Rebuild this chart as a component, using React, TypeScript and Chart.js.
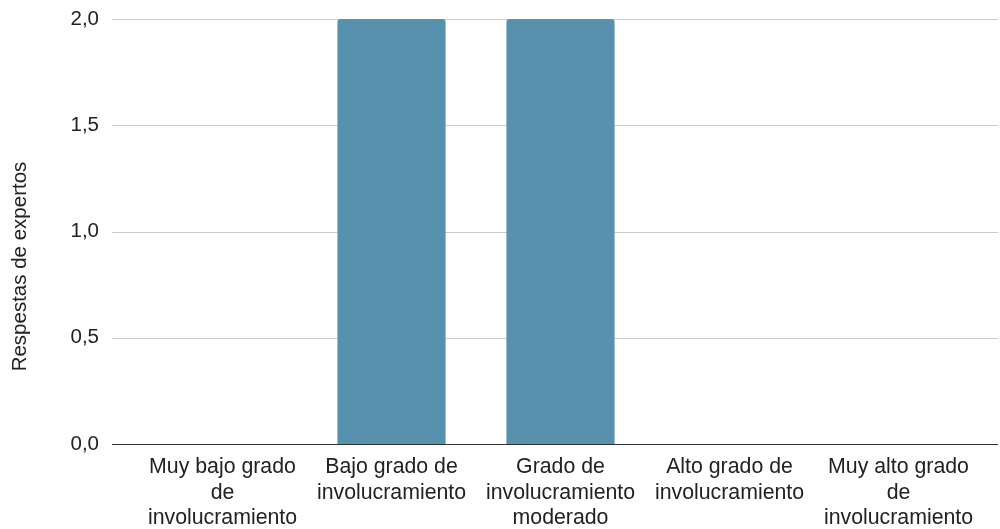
import React, { useEffect, useRef } from "react";
import { Chart, registerables } from "chart.js";

Chart.register(...registerables);

const categories: string[][] = [
  ["Muy bajo grado", "de", "involucramiento"],
  ["Bajo grado de", "involucramiento"],
  ["Grado de", "involucramiento", "moderado"],
  ["Alto grado de", "involucramiento"],
  ["Muy alto grado", "de", "involucramiento"],
];
const respuestas: number[] = [0, 2, 2, 0, 0];
const yMin = 0;
const yMax = 2;
const yStep = 0.5;
const yTitle = "Respestas de expertos";

const FONT = "'Liberation Sans', Arial, sans-serif";
const TEXT = "#222222";

// Horizontal grid lines that run a little past the plot area on both sides
const extendedGrid = {
  id: "extendedGrid",
  beforeDatasetsDraw(chart: any) {
    const { ctx, chartArea } = chart;
    const y = chart.scales.y;
    ctx.save();
    ctx.lineWidth = 1;
    ctx.strokeStyle = "#cccccc";
    y.ticks.forEach((t: any) => {
      if (t.value === 0) return;
      const py = Math.round(y.getPixelForValue(t.value)) + 0.5;
      ctx.beginPath();
      ctx.moveTo(chartArea.left - 26, py);
      ctx.lineTo(chartArea.right + 15, py);
      ctx.stroke();
    });
    ctx.restore();
  },
  afterDatasetsDraw(chart: any) {
    const { ctx, chartArea } = chart;
    const y = chart.scales.y;
    const py = Math.round(y.getPixelForValue(0)) + 0.5;
    ctx.save();
    ctx.lineWidth = 1;
    ctx.strokeStyle = "#333333";
    ctx.beginPath();
    ctx.moveTo(chartArea.left - 26, py);
    ctx.lineTo(chartArea.right + 15, py);
    ctx.stroke();
    ctx.restore();
  },
};

// Vertical axis title, centred on the full canvas height
const sideTitle = {
  id: "sideTitle",
  afterDraw(chart: any) {
    const { ctx, height } = chart;
    ctx.save();
    ctx.translate(20, height / 2 + 2);
    ctx.rotate(-Math.PI / 2);
    ctx.font = `20.5px ${FONT}`;
    ctx.fillStyle = TEXT;
    ctx.textAlign = "center";
    ctx.textBaseline = "middle";
    ctx.fillText(yTitle, 0, 0);
    ctx.restore();
  },
};

export default function App() {
  const canvasRef = useRef<HTMLCanvasElement | null>(null);

  useEffect(() => {
    if (!canvasRef.current) return;
    const chart = new Chart(canvasRef.current, {
      type: "bar",
      data: {
        labels: categories,
        datasets: [
          {
            label: yTitle,
            data: respuestas,
            backgroundColor: "#5891ad",
            borderRadius: { topLeft: 3, topRight: 3, bottomLeft: 0, bottomRight: 0 },
            borderSkipped: "bottom",
            categoryPercentage: 1,
            barPercentage: 0.64,
          },
        ],
      },
      options: {
        animation: false,
        responsive: true,
        maintainAspectRatio: false,
        layout: { padding: { top: 19, right: 17, bottom: 0, left: 0 } },
        plugins: {
          legend: { display: false },
          tooltip: { enabled: false },
        },
        scales: {
          x: {
            grid: { display: false, drawTicks: false },
            border: { display: false },
            ticks: {
              autoSkip: false,
              maxRotation: 0,
              minRotation: 0,
              padding: 11,
              color: TEXT,
              font: { family: FONT, size: 21.3, lineHeight: 1.18 },
            },
            afterFit(scale: any) {
              scale.height = 85;
            },
          },
          y: {
            min: yMin,
            max: yMax,
            grid: { display: false, drawTicks: false },
            border: { display: false },
            ticks: {
              stepSize: yStep,
              padding: 39,
              color: TEXT,
              font: { family: FONT, size: 20.5 },
              callback: (v: any) => Number(v).toFixed(1).replace(".", ","),
            },
            afterFit(scale: any) {
              scale.width = 138;
              scale.paddingTop = 0;
              scale.paddingBottom = 0;
            },
          },
        },
      },
      plugins: [extendedGrid, sideTitle],
    });
    return () => chart.destroy();
  }, []);

  return (
    <div style={{ position: "fixed", left: 0, top: 0, width: 1000, height: 529, background: "#fff" }}>
      <canvas ref={canvasRef} />
    </div>
  );
}
